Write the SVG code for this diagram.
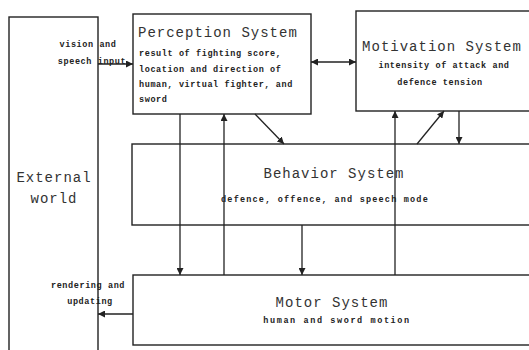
<svg xmlns="http://www.w3.org/2000/svg" width="529" height="350" viewBox="0 0 529 350">
<style>
.box{fill:#fff;stroke:#222;stroke-width:1.4}
.ln{fill:none;stroke:#222;stroke-width:1.3}
.t{font-family:"Liberation Mono","DejaVu Sans Mono",monospace;font-size:14px;letter-spacing:1px;fill:#333}
.s{font-family:"Liberation Mono","DejaVu Sans Mono",monospace;font-size:8.5px;letter-spacing:0.6px;fill:#222;font-weight:bold}
.m{text-anchor:middle}
</style>
<defs>
<marker id="ah" viewBox="0 0 10 10" refX="10" refY="5" markerWidth="7" markerHeight="7" orient="auto-start-reverse" markerUnits="userSpaceOnUse">
<path d="M0,0 L10,5 L0,10 z" fill="#222"/>
</marker>
</defs>
<rect width="529" height="350" fill="#fff"/>
<g id="external">
<rect class="box" x="9" y="17" width="89" height="345"/>
<text class="t m" x="54" y="182">External</text>
<text class="t m" x="54" y="203">world</text>
</g>
<g id="perception">
<rect class="box" x="133" y="14" width="178" height="100"/>
<text class="t" x="138" y="37">Perception System</text>
<text class="s" x="139" y="56">result of fighting score,</text>
<text class="s" x="139" y="72">location and direction of</text>
<text class="s" x="139" y="87">human, virtual fighter, and</text>
<text class="s" x="139" y="102">sword</text>
</g>
<g id="motivation">
<rect class="box" x="356" y="11" width="180" height="100"/>
<text class="t m" x="442" y="51">Motivation System</text>
<text class="s m" x="444" y="68">intensity of attack and</text>
<text class="s m" x="440" y="85">defence tension</text>
</g>
<g id="behavior">
<rect class="box" x="132" y="144" width="405" height="81"/>
<text class="t m" x="334" y="178">Behavior System</text>
<text class="s m" x="325" y="202" style="letter-spacing:1.2px">defence, offence, and speech mode</text>
</g>
<g id="motor">
<rect class="box" x="133" y="275" width="405" height="70"/>
<text class="t m" x="332" y="307">Motor System</text>
<text class="s m" x="337" y="323" style="letter-spacing:1.6px">human and sword motion</text>
</g>
<g id="connectors">
<line class="ln" x1="98" y1="64" x2="133" y2="64" marker-end="url(#ah)"/>
<line class="ln" x1="311" y1="62" x2="356" y2="62" marker-start="url(#ah)" marker-end="url(#ah)"/>
<line class="ln" x1="255" y1="114" x2="284" y2="144" marker-end="url(#ah)"/>
<line class="ln" x1="417" y1="144" x2="444" y2="111" marker-end="url(#ah)"/>
<line class="ln" x1="459" y1="111" x2="459" y2="144" marker-end="url(#ah)"/>
<line class="ln" x1="395" y1="275" x2="395" y2="111" marker-end="url(#ah)"/>
<line class="ln" x1="180" y1="114" x2="180" y2="275" marker-end="url(#ah)"/>
<line class="ln" x1="224" y1="275" x2="224" y2="114" marker-end="url(#ah)"/>
<line class="ln" x1="302" y1="225" x2="302" y2="275" marker-end="url(#ah)"/>
<line class="ln" x1="133" y1="314" x2="98" y2="314" marker-end="url(#ah)"/>
<text class="s m" x="88" y="47">vision and</text>
<text class="s m" x="92" y="64">speech input</text>
<text class="s m" x="88" y="288">rendering and</text>
<text class="s m" x="90" y="304">updating</text>
</g>
</svg>
